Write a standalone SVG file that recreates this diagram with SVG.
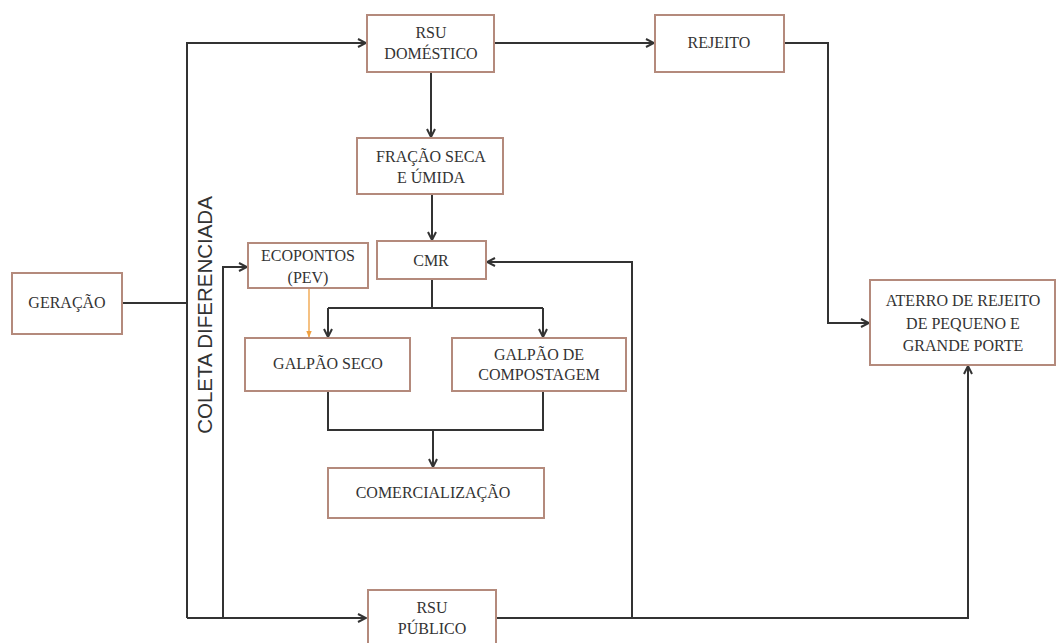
<svg xmlns="http://www.w3.org/2000/svg" width="1058" height="643" viewBox="0 0 1058 643">
<style>
.box{fill:#fff;stroke:#b48a7c;stroke-width:2}
.c{fill:none;stroke:#333;stroke-width:2}
.o{fill:none;stroke:#f0a040;stroke-width:1.3}
</style>
<defs>
<marker id="a" viewBox="0 0 10 10" refX="9" refY="5" markerWidth="10" markerHeight="10" markerUnits="userSpaceOnUse" orient="auto">
<path d="M1,1 L9,5 L1,9" fill="none" stroke="#333" stroke-width="2"/>
</marker>
<marker id="ao" viewBox="0 0 10 10" refX="9" refY="5" markerWidth="7" markerHeight="7" markerUnits="userSpaceOnUse" orient="auto">
<path d="M0,1 L10,5 L0,9 Z" fill="#f0a040"/>
</marker>
</defs>
<rect width="1058" height="643" fill="#fff"/>
<g id="connectors">
<path class="c" d="M122,303 H187"/>
<path class="c" d="M187,618 V43 H366" marker-end="url(#a)"/>
<path class="c" d="M187,618 H366" marker-end="url(#a)"/>
<path class="c" d="M223,618 V267 H247" marker-end="url(#a)"/>
<path class="c" d="M494,43 H654" marker-end="url(#a)"/>
<path class="c" d="M784,43 H828 V323 H869" marker-end="url(#a)"/>
<path class="c" d="M431,72 V137" marker-end="url(#a)"/>
<path class="c" d="M432,194 V240" marker-end="url(#a)"/>
<path class="c" d="M432,279 V308"/>
<path class="c" d="M328,308 H543"/>
<path class="c" d="M328,308 V337" marker-end="url(#a)"/>
<path class="c" d="M543,308 V337" marker-end="url(#a)"/>
<path class="o" d="M309,288 V337" marker-end="url(#ao)"/>
<path class="c" d="M328,391 V430 H543 V391"/>
<path class="c" d="M433,430 V467" marker-end="url(#a)"/>
<path class="c" d="M496,618 H968 V366" marker-end="url(#a)"/>
<path class="c" d="M632,618 V262 H487" marker-end="url(#a)"/>
</g>
<g font-family="Liberation Serif, Times New Roman, serif" font-size="16" fill="#333" text-anchor="middle" dominant-baseline="middle">
<g id="geracao"><rect class="box" x="12" y="273" width="110" height="61"/><text x="67" y="304">GERAÇÃO</text></g>
<g id="rsu-domestico"><rect class="box" x="367" y="15" width="127" height="57"/><text x="431" y="34">RSU</text><text x="431" y="55">DOMÉSTICO</text></g>
<g id="rejeito"><rect class="box" x="655" y="15" width="129" height="57"/><text x="719" y="44">REJEITO</text></g>
<g id="fracao"><rect class="box" x="357" y="138" width="146" height="56"/><text x="431" y="158">FRAÇÃO SECA</text><text x="431" y="179">E ÚMIDA</text></g>
<g id="ecopontos"><rect class="box" x="248" y="243" width="120" height="45"/><text x="308" y="257">ECOPONTOS</text><text x="308" y="279">(PEV)</text></g>
<g id="cmr"><rect class="box" x="377" y="241" width="109" height="38"/><text x="431" y="262">CMR</text></g>
<g id="galpao-seco"><rect class="box" x="245" y="338" width="165" height="53"/><text x="328" y="365">GALPÃO SECO</text></g>
<g id="galpao-compostagem"><rect class="box" x="452" y="338" width="174" height="53"/><text x="539" y="356">GALPÃO DE</text><text x="539" y="376">COMPOSTAGEM</text></g>
<g id="comercializacao"><rect class="box" x="328" y="468" width="216" height="50"/><text x="433" y="494">COMERCIALIZAÇÃO</text></g>
<g id="aterro"><rect class="box" x="870" y="280" width="185" height="85"/><text x="963" y="302">ATERRO DE REJEITO</text><text x="963" y="325">DE PEQUENO E</text><text x="963" y="347">GRANDE PORTE</text></g>
<g id="rsu-publico"><rect class="box" x="368" y="590" width="128" height="56"/><text x="432" y="609">RSU</text><text x="432" y="630">PÚBLICO</text></g>
</g>
<g id="coleta"><text x="207" y="315" transform="rotate(-90 207 315)" font-family="Liberation Sans, Arial, sans-serif" font-size="20.5" fill="#333" text-anchor="middle" dominant-baseline="middle">COLETA DIFERENCIADA</text></g>
</svg>
